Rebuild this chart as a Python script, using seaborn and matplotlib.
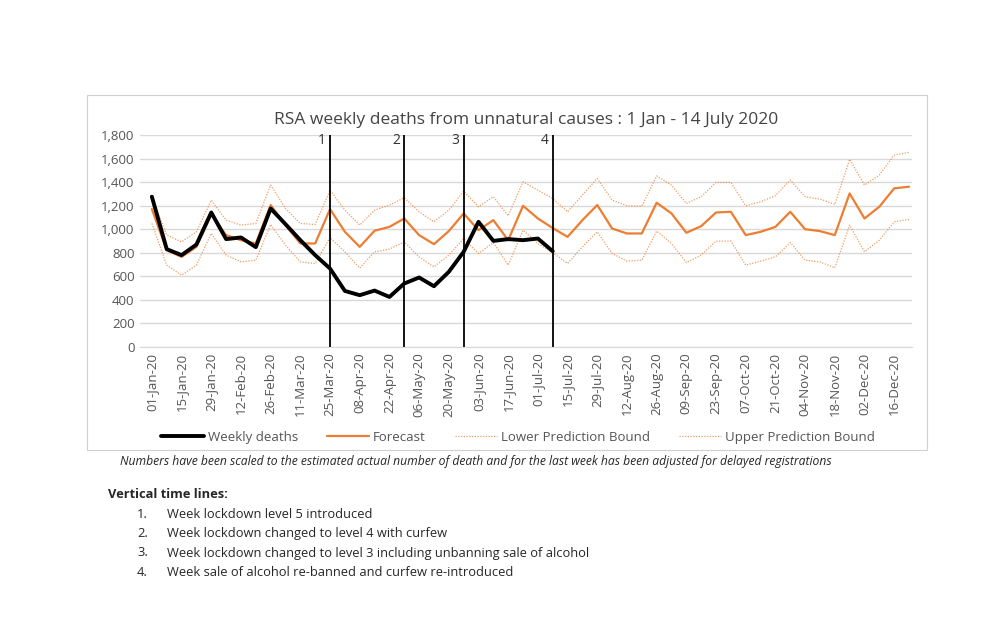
import matplotlib
matplotlib.use("Agg")
import matplotlib.pyplot as plt
import seaborn as sns
import pandas as pd
import numpy as np
from matplotlib.patches import Rectangle

sns.set_style("white")
plt.rcParams['font.family'] = ['Open Sans', 'DejaVu Sans']

weeks = pd.date_range("2020-01-01", periods=52, freq="7D")
week_labels = [d.strftime("%d-%b-%y") for d in weeks]

weekly_deaths = [1276, 831, 780, 870, 1142, 916, 930, 848, 1176, 1043, 907, 780, 666, 476, 440, 479,
                 425, 539, 590, 516, 638, 808, 1063, 901, 916, 907, 921, 813]
forecast = [1171, 822, 765, 850, 1125, 950, 907, 879, 1205, 1035, 879, 879, 1171, 978, 850, 987,
            1020, 1091, 950, 873, 984, 1134, 992, 1077, 907, 1199, 1091, 1010, 935, 1077, 1205, 1006,
            964, 964, 1225, 1134, 970, 1026, 1142, 1148, 950, 978, 1020, 1148, 1000, 984, 950, 1304,
            1091, 1191, 1347, 1361]
upper = [1270, 950, 893, 978, 1247, 1077, 1035, 1049, 1375, 1176, 1049, 1040, 1332, 1162, 1035, 1162,
         1205, 1267, 1148, 1063, 1162, 1324, 1191, 1276, 1114, 1403, 1332, 1260, 1148, 1290, 1432, 1247,
         1199, 1196, 1452, 1375, 1219, 1276, 1398, 1398, 1199, 1233, 1284, 1418, 1276, 1256, 1211, 1593,
         1375, 1460, 1630, 1653]
lower = [1049, 695, 610, 695, 964, 780, 723, 737, 1040, 865, 723, 709, 930, 808, 672, 808,
         831, 893, 765, 680, 780, 921, 794, 887, 695, 992, 879, 800, 709, 850, 978, 794,
         729, 737, 984, 879, 717, 780, 899, 899, 695, 729, 765, 887, 737, 723, 672, 1035,
         808, 907, 1063, 1083]
event_weeks = [12, 17, 21, 27]
event_labels = ["1", "2", "3", "4"]

orange = "#ED7D31"
x_all = np.arange(52)

fig = plt.figure(figsize=(10.03, 6.29), dpi=100)
fig.patches.append(Rectangle((87/1003, 1-450/629), (927-87)/1003, (450-95)/629,
                             transform=fig.transFigure, fill=False, edgecolor="#d0d0d0", lw=0.8))
ax = fig.add_axes([140/1003, 1-347/629, 772/1003, 212/629])

sns.lineplot(x=x_all, y=lower, ax=ax, color=orange, lw=0.9, linestyle=(0, (1, 1.2)), alpha=0.75,
             label="Lower Prediction Bound")
sns.lineplot(x=x_all, y=upper, ax=ax, color=orange, lw=0.9, linestyle=(0, (1, 1.2)), alpha=0.75,
             label="Upper Prediction Bound")
sns.lineplot(x=x_all, y=forecast, ax=ax, color=orange, lw=1.6, label="Forecast")
sns.lineplot(x=np.arange(len(weekly_deaths)), y=weekly_deaths, ax=ax, color="black", lw=2.8,
             label="Weekly deaths")

for w, lab in zip(event_weeks, event_labels):
    ax.axvline(w, ymin=0, ymax=1, color="black", lw=1.3)
    ax.text(w - 0.3, 1750, lab, ha="right", va="center", fontsize=10, color="#333333")

ax.set_xlim(-0.8, 51.2)
ax.set_ylim(0, 1800)
ax.set_yticks(range(0, 1801, 200))
ax.set_yticklabels([f"{v:,}" for v in range(0, 1801, 200)], fontsize=9.5, color="#555555")
ax.set_xticks(x_all[::2])
ax.set_xticklabels(week_labels[::2], rotation=90, fontsize=9.5, color="#555555")
ax.yaxis.grid(True, color="#d9d9d9", lw=1)
ax.xaxis.grid(False)
for s in ["top", "right", "left"]:
    ax.spines[s].set_visible(False)
ax.spines["bottom"].set_color("#d9d9d9")
ax.tick_params(axis="both", length=0, pad=4)
ax.set_title("RSA weekly deaths from unnatural causes : 1 Jan - 14 July 2020", fontsize=12.5,
             color="#444444", pad=8)

h, l = ax.get_legend_handles_labels()
order = [3, 2, 0, 1]
ax.legend([h[i] for i in order], [l[i] for i in order], loc="upper center", bbox_to_anchor=(0.49, -0.34),
          ncol=4, frameon=False, fontsize=9.5, handlelength=3.2, handletextpad=0.3,
          columnspacing=2.2, labelcolor="#555555")

fig.text(120/1003, 1-461/629, "Numbers have been scaled to the estimated actual number of death and for the last week has been adjusted for delayed registrations",
         fontsize=8.7, style="italic", va="center")
fig.text(108/1003, 1-494/629, "Vertical time lines:", fontsize=9.3, weight="bold", va="center")
items = ["Week lockdown level 5 introduced",
         "Week lockdown changed to level 4 with curfew",
         "Week lockdown changed to level 3 including unbanning sale of alcohol",
         "Week sale of alcohol re-banned and curfew re-introduced"]
for i, t in enumerate(items):
    y = 1 - (514 + 19.5 * i) / 629
    fig.text(137/1003, y, f"{i+1}.", fontsize=9.3, va="center")
    fig.text(167/1003, y, t, fontsize=9.3, va="center")

fig.savefig("out.png", dpi=100, facecolor="white")
